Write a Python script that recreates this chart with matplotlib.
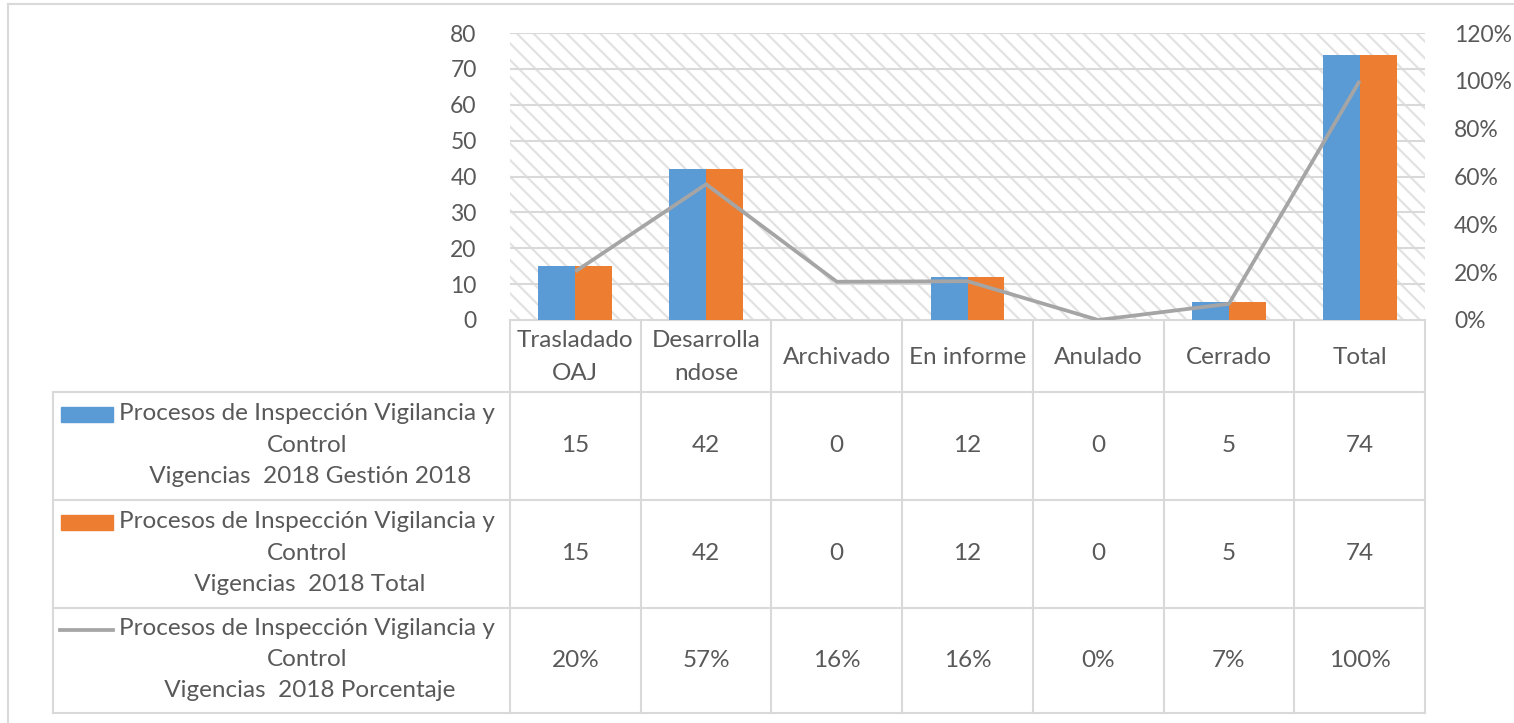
import numpy as np
import matplotlib
matplotlib.use('Agg')
import matplotlib.pyplot as plt
from matplotlib.patches import Rectangle
from matplotlib.lines import Line2D

categories = ['Trasladado\nOAJ', 'Desarrolla\nndose', 'Archivado', 'En informe', 'Anulado', 'Cerrado', 'Total']
gestion = [15, 42, 0, 12, 0, 5, 74]
total = [15, 42, 0, 12, 0, 5, 74]
porcentaje = [0.2027, 0.5676, 0.16, 0.1622, 0.0, 0.0676, 1.0]
porcentaje_labels = ['20%', '57%', '16%', '16%', '0%', '7%', '100%']
series_names = [
    'Procesos de Inspección Vigilancia y\nControl\n Vigencias  2018 Gestión 2018',
    'Procesos de Inspección Vigilancia y\nControl\n Vigencias  2018 Total',
    'Procesos de Inspección Vigilancia y\nControl\n Vigencias  2018 Porcentaje',
]

blue = '#5B9BD5'
orange = '#ED7D31'
gray = '#A5A5A5'
txt = '#595959'
grid = '#D9D9D9'
fs = 17.5
tfs = 16.5

plt.rcParams['font.family'] = ['Lato', 'DejaVu Sans']
plt.rcParams['hatch.linewidth'] = 1.6

W, H = 1514, 723
fig = plt.figure(figsize=(W / 100, H / 100), dpi=100)

# plot area in pixels
px0, px1, py0, py1 = 510, 1425, 33, 320
ax = fig.add_axes([px0 / W, 1 - py1 / H, (px1 - px0) / W, (py1 - py0) / H])
ax.patch.set_visible(False)
ax.add_patch(Rectangle((0, 0), 1, 1, transform=ax.transAxes, facecolor='white',
                       edgecolor='#E2E2E2', linewidth=0, hatch='\\\\', zorder=0))

x = np.arange(len(categories))
bw = 0.283
ax.bar(x - bw / 2, gestion, bw, color=blue, zorder=2)
ax.bar(x + bw / 2, total, bw, color=orange, zorder=2)
ax.set_xlim(-0.5, len(categories) - 0.5)
ax.set_ylim(0, 80)
ax.set_yticks(range(0, 81, 10))
ax.yaxis.grid(True, color=grid, linewidth=1.5, zorder=1)
ax.set_axisbelow(True)
ax.set_xticks([])
ax.tick_params(axis='y', length=0, labelsize=tfs, labelcolor=txt, pad=24)
for s in ax.spines.values():
    s.set_visible(False)

ax2 = ax.twinx()
ax2.plot(x, porcentaje, color=gray, linewidth=2.7, zorder=3, solid_capstyle='butt')
ax2.set_ylim(0, 1.2)
ax2.set_yticks(np.arange(0, 1.21, 0.2))
ax2.set_yticklabels([f'{int(round(v * 100))}%' for v in np.arange(0, 1.21, 0.2)])
ax2.tick_params(axis='y', length=0, labelsize=tfs, labelcolor=txt, pad=21)
for s in ax2.spines.values():
    s.set_visible(False)

# data table drawn in pixel coordinates
tab = fig.add_axes([0, 0, 1, 1], zorder=-1)
tab.set_xlim(0, W)
tab.set_ylim(H, 0)
tab.axis('off')

lc = grid
lw = 1.5
# outer chart frame
tab.plot([7.5, W], [3.5, 3.5], color=lc, lw=lw)
tab.plot([7.5, 7.5], [3.5, H], color=lc, lw=lw)

cw = (px1 - px0) / len(categories)
rows = [320, 392, 500, 608, 713]
tab_left = 53
tab.plot([px0, px1], [rows[0], rows[0]], color=lc, lw=lw)
for r in rows[1:]:
    tab.plot([tab_left, px1], [r, r], color=lc, lw=lw)
tab.plot([tab_left, tab_left], [rows[1], rows[-1]], color=lc, lw=lw)
for i in range(len(categories) + 1):
    tab.plot([px0 + i * cw] * 2, [rows[0], rows[-1]], color=lc, lw=lw)

for i, c in enumerate(categories):
    cx = px0 + (i + 0.5) * cw
    tab.text(cx, (rows[0] + rows[1]) / 2 + 1, c, ha='center', va='center',
             fontsize=fs, color=txt, linespacing=1.65)

row_vals = [
    [str(v) for v in gestion],
    [str(v) for v in total],
    porcentaje_labels,
]
for j, vals in enumerate(row_vals):
    cy = (rows[j + 1] + rows[j + 2]) / 2
    for i, v in enumerate(vals):
        cx = px0 + (i + 0.5) * cw
        tab.text(cx, cy, v, ha='center', va='center', fontsize=fs, color=txt)
    tab.text(307, cy - 1, series_names[j], ha='center', va='center',
             fontsize=fs, color=txt, multialignment='center', linespacing=1.6)
    ky = rows[j + 1] + 22
    if j < 2:
        tab.add_patch(Rectangle((61, ky - 7.5), 52, 15, color=[blue, orange][j]))
    else:
        tab.add_line(Line2D([60, 113], [ky, ky], color=gray, lw=2.7))

fig.savefig('out.png', dpi=100)
